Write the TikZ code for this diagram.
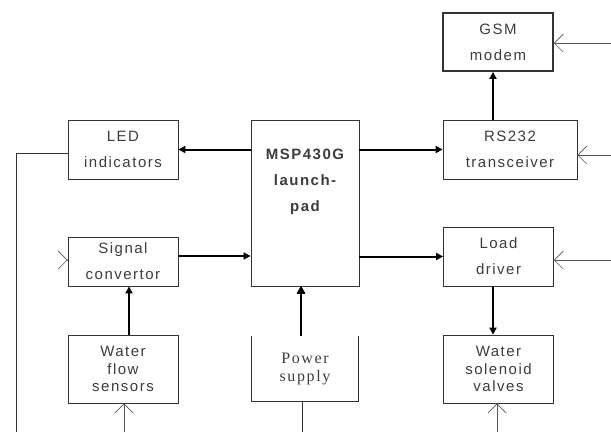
\documentclass[tikz,border=0pt]{standalone}
\usepackage{fontspec}
\setmainfont{Liberation Sans}[LetterSpace=10]
\newfontfamily\psfont{Liberation Serif}[LetterSpace=10]
\usepackage{tikz}
\usetikzlibrary{arrows.meta,positioning,calc}
\definecolor{frame}{HTML}{333333}
\definecolor{ink}{HTML}{3C3C3C}
\definecolor{wire}{HTML}{555555}
\tikzset{blk/.style={draw=frame,line width=0.8pt,align=center,text=ink,font=\fontsize{15}{26}\selectfont,inner sep=0pt},
  tallblk/.style={blk,font=\fontsize{15}{17.5}\selectfont},
  gsmblk/.style={blk,line width=1.8pt},
  sig/.style={-{Triangle[length=7pt,width=7pt]},line width=2pt,draw=black},
  feed/.style={-{Triangle[length=8pt,width=9pt,round]},line width=1.1pt,draw=black},
  inarr/.style={-{Straight Barb[length=9pt,width=18pt]},line width=0.6pt,draw=wire},
  plain/.style={line width=0.9pt,draw=frame}}

\begin{document}
\begin{tikzpicture}[x=1pt,y=-1pt]
\useasboundingbox (0,0) rectangle (611,432);
% blocks
\node[gsmblk,minimum width=110pt,minimum height=58pt] (gsm) at (498,42) {GSM\\modem};
\node[blk,minimum width=110pt,minimum height=59pt] (led) at (123,149.5) {LED\\indicators};
\node[blk,minimum width=108pt,minimum height=166pt] (msp) at (305,203) {};
\node[font=\fontsize{15}{26}\selectfont\bfseries,text=ink,align=center,anchor=north] (msptxt) at (305,145) {MSP430G\\launch-\\pad};
\node[blk,minimum width=134pt,minimum height=59pt] (rs) at (510,149.5) {RS232\\transceiver};
\node[blk,minimum width=110pt,minimum height=49pt] (sig) at (123,261.5) {Signal\\convertor};
\node[blk,minimum width=110pt,minimum height=59pt] (load) at (498.5,256.5) {Load\\driver};
\node[tallblk,minimum width=110pt,minimum height=68pt] (flow) at (123,369) {Water\\flow\\sensors};
\node[tallblk,draw=none,font=\fontsize{16}{18}\psfont,minimum width=106pt,minimum height=65pt] (power) at (305,368.5) {Power\\supply};
\node[tallblk,minimum width=110pt,minimum height=68pt] (valve) at (498.5,369) {Water\\solenoid\\valves};
\draw[plain] (power.north west) -- (power.south west) -- (power.south east) -- (power.north east);
% loose ends
\coordinate (lft) at (16,432);
\coordinate (rg) at (611,43);
\coordinate (rr) at (611,155);
\coordinate (rl) at (611,260);
\coordinate (bf) at (124,432);
\coordinate (bp) at (302,432);
\coordinate (bv) at (497,432);
% signal paths
\draw[sig] (msp.west |- led.east) -- (led.east);
\draw[sig] (msp.east |- rs.west) -- (rs.west);
\draw[sig] ([xshift=-5pt]gsm.south |- rs.north) -- ([xshift=-5pt]gsm.south);
\draw[sig] ([yshift=5.5pt]sig.east) -- ([yshift=5.5pt]sig.east -| msp.west);
\draw[sig] (msp.east |- load.west) -- (load.west);
\draw[sig] ([xshift=6pt]flow.north) -- ([xshift=6pt]sig.south);
\draw[sig] ([xshift=-5.5pt]load.south) -- ([xshift=-5.5pt]valve.north);
\draw[feed] ([xshift=-4pt]power.north) -- ([xshift=-4pt]msp.south);
% wiring
\draw[plain] ([yshift=-3.5pt]led.west) -| (lft);
\draw[plain] (bp |- power.south) -- (bp);
\draw[inarr] ([xshift=-0.5pt,yshift=1.5pt]sig.west) -- ([yshift=1.5pt]sig.west);
\draw[inarr] (rg) -- (rg -| gsm.east);
\draw[inarr] (rr) -- (rr -| rs.east);
\draw[inarr] (rl) -- (rl -| load.east);
\draw[inarr] (bf) -- (bf |- flow.south);
\draw[inarr] (bv) -- (bv |- valve.south);
\end{tikzpicture}
\end{document}
